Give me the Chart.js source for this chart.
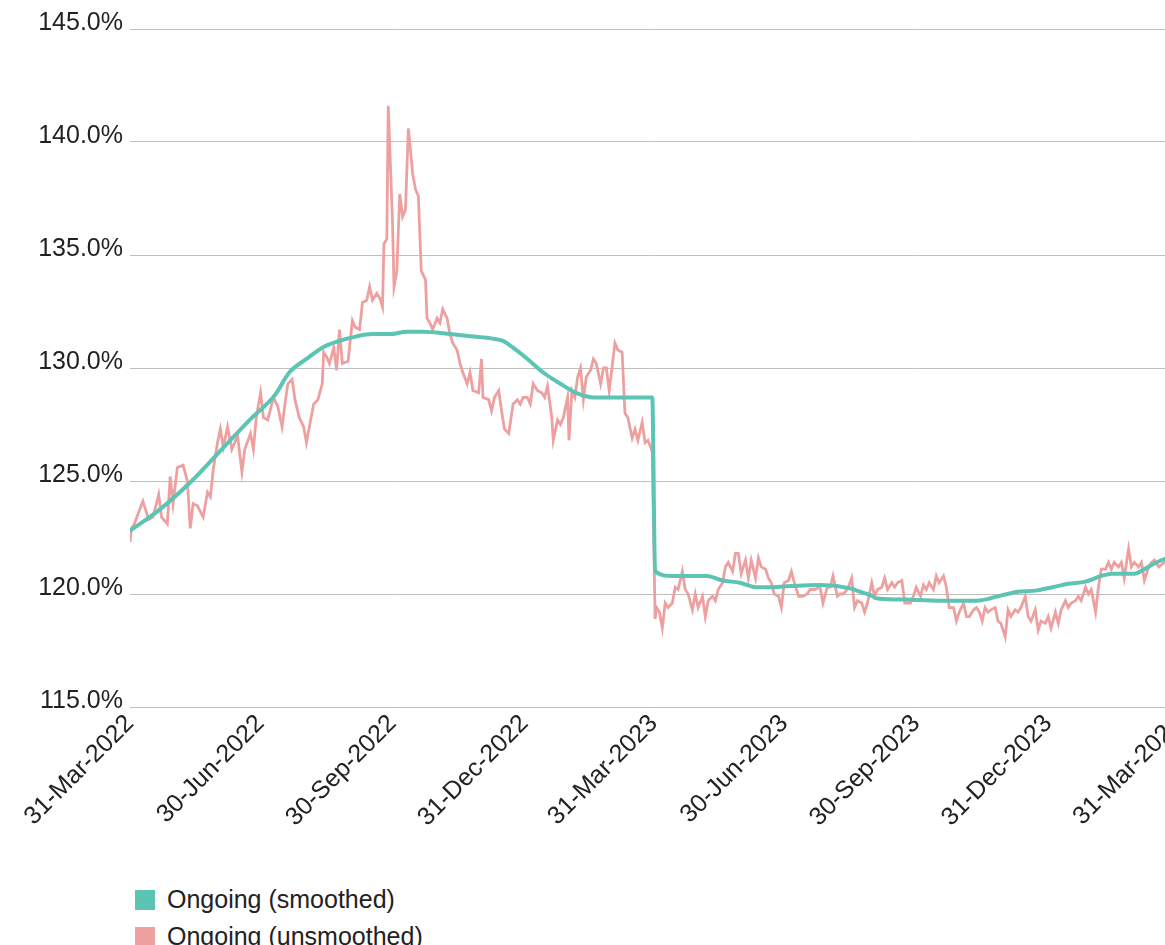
<!DOCTYPE html>
<html>
<head>
<meta charset="utf-8">
<script src="https://cdn.jsdelivr.net/npm/chart.js@4.4.1/dist/chart.umd.min.js"></script>
<style>
  html, body { margin: 0; padding: 0; background: #fff; overflow: hidden; }
  body { width: 1165px; height: 945px; position: relative; }
  #wrap { position: absolute; left: 0; top: 0; width: 1202px; height: 870px; }
  #legend { position: absolute; left: 135px; top: 881px; font-family: "Liberation Sans", Arial, sans-serif; font-size: 25px; color: #222; }
  .item { display: flex; align-items: center; height: 37px; }
  .box { width: 20px; height: 20px; margin-right: 12px; }
</style>
</head>
<body>
<div id="wrap"><canvas id="chart"></canvas></div>
<div id="legend"></div>
<script>
// x軸の目盛（2022-03-31からの日数）
const tickDays = [0, 91, 183, 275, 365, 456, 548, 640, 731];
const tickLabels = ['31-Mar-2022', '30-Jun-2022', '30-Sep-2022', '31-Dec-2022', '31-Mar-2023',
  '30-Jun-2023', '30-Sep-2023', '31-Dec-2023', '31-Mar-2024'];

// Ongoing (smoothed)
const smoothedDays = [
  0, 20, 43, 61, 85, 101, 111, 123, 134, 146,
  158, 169, 181, 193, 204, 223, 237, 253, 260, 267,
  277, 288, 300, 311, 323, 346, 364, 366, 378, 402,
  413, 425, 437, 448, 460, 481, 502, 509, 516, 521,
  544, 567, 590, 608, 619, 631, 643, 654, 666, 677,
  684, 700, 707, 714, 721, 731];
const smoothedPct = [
  122.8, 123.7, 125.0, 126.2, 127.8, 128.8, 129.8, 130.4, 130.9, 131.2,
  131.4, 131.5, 131.5, 131.6, 131.6, 131.5, 131.4, 131.3, 131.2, 130.9,
  130.4, 129.8, 129.3, 128.9, 128.7, 128.7, 128.7, 121.0, 120.8, 120.8,
  120.6, 120.5, 120.3, 120.3, 120.35, 120.4, 120.25, 120.1, 119.95, 119.8,
  119.75, 119.7, 119.7, 119.95, 120.1, 120.15, 120.3, 120.45, 120.55, 120.8,
  120.9, 120.9, 121.1, 121.35, 121.55, 121.8];

// Ongoing (unsmoothed)
const unsmoothedDays = [
  0, 1, 3, 9, 13, 16, 20, 22, 26, 28,
  30, 33, 37, 40, 42, 44, 47, 51, 54, 56,
  58, 61, 63, 65, 68, 71, 75, 78, 80, 84,
  86, 88, 91, 93, 96, 100, 103, 106, 108, 110,
  113, 115, 118, 121, 123, 125, 128, 131, 134, 135,
  137, 139, 142, 144, 146, 148, 152, 155, 157, 160,
  162, 165, 167, 169, 172, 174, 176, 177, 179, 180,
  183, 184, 186, 188, 190, 192, 194, 196, 197, 199,
  201, 203, 206, 207, 209, 211, 214, 216, 218, 221,
  223, 225, 228, 230, 232, 235, 237, 239, 243, 245,
  246, 250, 252, 254, 257, 259, 261, 264, 267, 270,
  272, 274, 277, 279, 281, 284, 287, 289, 291, 294,
  295, 298, 300, 302, 305, 306, 308, 310, 312, 314,
  316, 318, 321, 323, 325, 328, 330, 332, 334, 338,
  340, 343, 345, 347, 350, 352, 354, 357, 359, 361,
  364, 366, 367, 369, 371, 373, 375, 378, 380, 382,
  385, 387, 389, 392, 394, 396, 399, 401, 403, 406,
  408, 410, 413, 415, 417, 420, 422, 424, 426, 429,
  431, 433, 436, 438, 440, 443, 445, 447, 449, 452,
  454, 456, 459, 461, 463, 466, 469, 472, 474, 477,
  481, 483, 486, 488, 490, 493, 495, 497, 500, 503,
  505, 507, 510, 512, 514, 517, 519, 521, 524, 526,
  528, 531, 533, 535, 538, 540, 544, 546, 548, 551,
  553, 555, 557, 560, 562, 564, 567, 569, 571, 574,
  576, 578, 581, 583, 585, 588, 590, 592, 594, 596,
  598, 600, 603, 605, 607, 610, 612, 614, 617, 619,
  621, 624, 626, 628, 631, 633, 635, 638, 640, 642,
  645, 647, 649, 652, 654, 656, 659, 661, 663, 666,
  668, 670, 673, 675, 677, 680, 682, 684, 686, 689,
  691, 693, 696, 698, 700, 703, 705, 707, 710, 712,
  714, 717, 721, 726, 731];
const unsmoothedPct = [
  122.3, 122.9, 123.1, 124.1, 123.3, 123.4, 124.4, 123.4, 123.1, 125.2,
  124.0, 125.6, 125.7, 125.0, 122.9, 124.0, 123.9, 123.4, 124.5, 124.3,
  125.5, 126.7, 127.3, 126.5, 127.4, 126.4, 127.0, 125.4, 126.4, 127.1,
  126.4, 127.8, 128.9, 127.8, 127.7, 128.7, 128.3, 127.4, 128.4, 129.3,
  129.5, 128.6, 127.8, 127.4, 126.7, 127.4, 128.4, 128.6, 129.3, 130.7,
  130.5, 130.2, 130.9, 129.9, 131.7, 130.2, 130.3, 132.1, 131.8, 131.7,
  132.9, 133.0, 133.6, 133.0, 133.3, 133.1, 132.7, 135.5, 135.7, 141.6,
  136.4, 133.6, 134.3, 137.7, 136.7, 137.0, 140.6, 139.3, 138.6, 137.9,
  137.6, 134.3, 133.9, 132.2, 132.0, 131.7, 132.2, 132.0, 132.6, 132.2,
  131.5, 131.1, 130.8, 130.2, 129.8, 129.3, 129.8, 129.0, 128.9, 130.4,
  128.7, 128.6, 128.1, 128.7, 129.0, 128.1, 127.3, 127.1, 128.4, 128.6,
  128.4, 128.7, 128.7, 128.4, 129.3, 129.0, 128.9, 128.7, 129.2, 127.8,
  126.8, 127.7, 127.5, 127.8, 128.7, 126.8, 129.0, 128.7, 129.6, 130.0,
  128.6, 129.6, 129.9, 130.4, 130.2, 129.3, 130.0, 130.0, 129.0, 131.1,
  130.8, 130.7, 128.0, 127.8, 126.9, 127.3, 126.8, 127.6, 126.7, 126.8,
  126.3, 118.9, 119.4, 119.2, 118.5, 119.6, 119.4, 119.6, 120.3, 120.2,
  121.0, 120.2, 120.0, 119.3, 120.0, 119.4, 119.9, 119.0, 119.7, 119.9,
  119.7, 120.2, 120.5, 121.2, 121.4, 121.0, 121.8, 121.8, 120.9, 121.5,
  120.7, 121.5, 120.7, 121.6, 121.2, 121.1, 120.7, 120.5, 120.0, 119.9,
  119.4, 120.5, 120.6, 121.0, 120.5, 119.9, 119.9, 120.0, 120.2, 120.2,
  120.3, 119.6, 120.3, 120.3, 120.8, 119.9, 120.0, 120.0, 120.2, 120.7,
  119.4, 119.7, 119.6, 119.2, 119.6, 120.5, 119.9, 120.2, 120.3, 120.7,
  120.2, 120.5, 120.3, 120.5, 120.6, 119.6, 119.6, 119.9, 120.3, 119.9,
  120.4, 120.2, 120.5, 120.2, 120.8, 120.5, 120.8, 120.3, 119.4, 119.4,
  118.8, 119.2, 119.6, 119.0, 119.0, 119.3, 119.4, 119.2, 118.8, 119.4,
  119.2, 119.3, 119.4, 118.8, 118.7, 118.1, 119.3, 119.0, 119.3, 119.2,
  119.4, 119.9, 119.0, 118.8, 119.3, 118.4, 118.8, 118.7, 119.0, 118.5,
  119.2, 118.7, 119.3, 119.7, 119.4, 119.6, 119.7, 119.9, 119.7, 120.3,
  120.0, 120.2, 119.2, 120.3, 121.1, 121.1, 121.4, 121.1, 121.4, 121.2,
  121.4, 120.7, 122.0, 121.2, 121.4, 121.2, 121.4, 120.6, 121.2, 121.4,
  121.5, 121.2, 121.4, 121.6, 121.5];

const toPoints = (days, pct) => days.map((d, i) => ({ x: d, y: pct[i] }));

Chart.defaults.font.family = '"Liberation Sans", Arial, sans-serif';
Chart.defaults.font.size = 25;
Chart.defaults.color = '#222';

const ctx = document.getElementById('chart').getContext('2d');
const chart = new Chart(ctx, {
  type: 'line',
  data: {
    datasets: [
      {
        label: 'Ongoing (smoothed)',
        data: toPoints(smoothedDays, smoothedPct),
        borderColor: '#5bc4b3',
        backgroundColor: '#5bc4b3',
        borderWidth: 4,
        pointRadius: 0,
        cubicInterpolationMode: 'monotone',
      },
      {
        label: 'Ongoing (unsmoothed)',
        data: toPoints(unsmoothedDays, unsmoothedPct),
        borderColor: '#eea0a0',
        backgroundColor: '#eea0a0',
        borderWidth: 2.8,
        pointRadius: 0,
        tension: 0,
      },
    ],
  },
  options: {
    responsive: true,
    maintainAspectRatio: false,
    animation: false,
    layout: { padding: { top: 29, left: 0, right: 0, bottom: 0 } },
    plugins: {
      legend: { display: false },
      tooltip: { enabled: false },
    },
    scales: {
      x: {
        type: 'linear',
        min: 0,
        max: 731,
        afterBuildTicks: (axis) => {
          axis.ticks = tickDays.map((v) => ({ value: v }));
        },
        afterFit: (axis) => {
          axis.height = 163;
        },
        grid: { display: false, drawTicks: false },
        border: { display: false },
        ticks: {
          autoSkip: false,
          maxRotation: 45,
          minRotation: 45,
          padding: 2,
          callback: (value) => tickLabels[tickDays.indexOf(value)],
        },
      },
      y: {
        min: 115,
        max: 145,
        afterFit: (axis) => {
          axis.width = 130;
        },
        grid: { color: '#bfbfbf', lineWidth: 1, drawTicks: false },
        border: { display: false },
        ticks: {
          stepSize: 5,
          padding: 7,
          labelOffset: -6,
          callback: (value) => value.toFixed(1) + '%',
        },
      },
    },
  },
});

// 凡例（縦並び）
const legend = document.getElementById('legend');
chart.data.datasets.forEach((ds) => {
  const item = document.createElement('div');
  item.className = 'item';
  item.innerHTML = `<span class="box" style="background:${ds.borderColor}"></span><span>${ds.label}</span>`;
  legend.appendChild(item);
});
</script>
</body>
</html>
